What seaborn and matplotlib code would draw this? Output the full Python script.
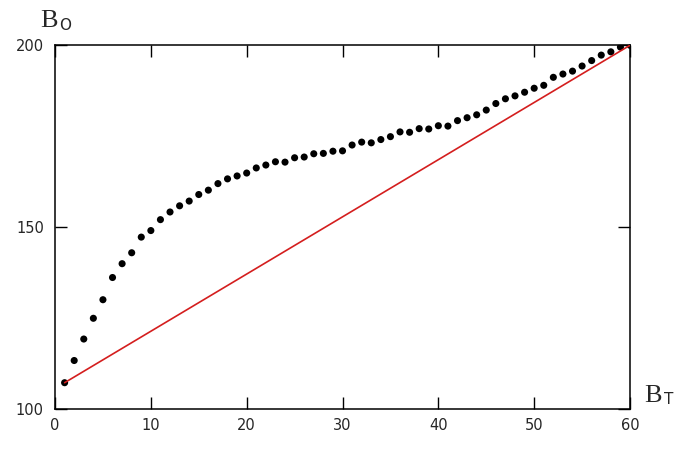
import numpy as np
import pandas as pd
import matplotlib
matplotlib.use("Agg")
import matplotlib.pyplot as plt
import seaborn as sns

# B_T values (x) and measured B_O values (dots)
b_t = list(range(1, 61))
b_o = [
    107.3, 113.4, 119.3, 125.0, 130.1, 136.2, 140.0, 143.0, 147.3, 149.1,
    152.1, 154.2, 155.9, 157.2, 159.0, 160.2, 162.0, 163.3, 164.1, 164.9,
    166.3, 167.1, 168.0, 167.9, 169.1, 169.3, 170.2, 170.3, 170.9, 171.0,
    172.6, 173.4, 173.2, 174.1, 174.9, 176.2, 176.1, 177.1, 177.0, 177.9,
    177.8, 179.3, 180.1, 180.9, 182.2, 184.0, 185.3, 186.1, 187.1, 188.2,
    189.0, 191.2, 192.1, 192.9, 194.3, 195.8, 197.3, 198.2, 199.5, 200.0,
]

# straight reference line
line_x = [1, 60]
line_y = [107.3, 200.0]

x_ticks = [0, 10, 20, 30, 40, 50, 60]
y_ticks = [100, 150, 200]

sns.set_style("white")
plt.rcParams["font.family"] = ["DejaVu Sans"]

fig = plt.figure(figsize=(6.93, 4.51), dpi=100)
ax = fig.add_axes([0.0794, 0.0925, 0.8297, 0.8071])

dots = pd.DataFrame({"bt": b_t, "bo": b_o})
line = pd.DataFrame({"bt": line_x, "bo": line_y})

sns.scatterplot(data=dots, x="bt", y="bo", ax=ax, color="black", s=26,
                edgecolor="none", zorder=2)
sns.lineplot(data=line, x="bt", y="bo", ax=ax, color="#d41e1e",
             linewidth=1.2, zorder=3)

ax.set_xlim(0, 60)
ax.set_ylim(100, 200)
ax.set_xticks(x_ticks)
ax.set_yticks(y_ticks)
ax.set_xlabel("")
ax.set_ylabel("")
ax.tick_params(direction="in", length=8.5, width=1, color="black",
               top=True, right=True, bottom=True, left=True,
               labeltop=False, labelright=False, labelsize=10.5, pad=6)
ax.tick_params(axis="y", pad=8)
for sp in ax.spines.values():
    sp.set_color("black")
    sp.set_linewidth(1.1)

# axis names with subscripts, placed like the original
fig.text(0.0575, 0.940, "B", family="Liberation Serif", fontsize=19,
         ha="left", va="baseline")
fig.text(0.0855, 0.933, "O", fontsize=11, ha="left", va="baseline")
fig.text(0.9295, 0.1093, "B", family="Liberation Serif", fontsize=19,
         ha="left", va="baseline")
fig.text(0.958, 0.104, "T", fontsize=11, ha="left", va="baseline")

fig.savefig("out.png", dpi=100)
